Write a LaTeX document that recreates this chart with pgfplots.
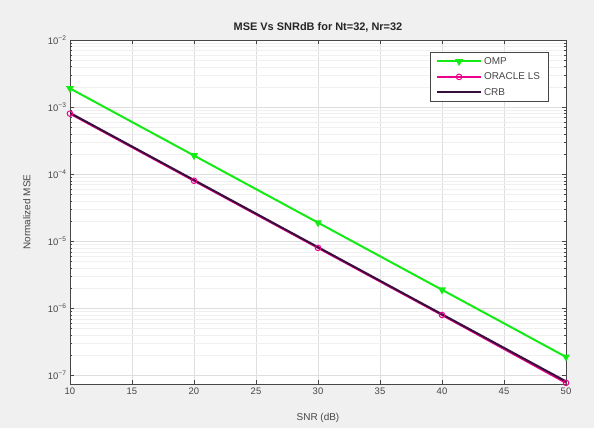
\documentclass[border=0pt]{standalone}
\usepackage{pgfplots}
\pgfplotsset{compat=1.18}
\usepackage{fontspec}
\setmainfont{Liberation Sans}
\definecolor{figbg}{RGB}{240,240,240}
\definecolor{axgray}{RGB}{70,70,70}
\definecolor{gridgray}{RGB}{222,222,222}
\definecolor{ompgreen}{RGB}{20,235,20}
\definecolor{crbcol}{RGB}{55,15,60}

\begin{document}
\begin{tikzpicture}
\fill[figbg] (0,0) rectangle (594bp,428bp);
\begin{axis}[
  at={(70bp,44bp)}, anchor=south west,
  width=496bp, height=344bp, scale only axis,
  ymode=log,
  xmin=10, xmax=50, ymin=7.5e-8, ymax=1e-2,
  xtick={10,15,...,50},
  ytick={1e-7,1e-6,1e-5,1e-4,1e-3,1e-2},
  yticklabels={10\textsuperscript{−7},10\textsuperscript{−6},10\textsuperscript{−5},10\textsuperscript{−4},10\textsuperscript{−3},10\textsuperscript{−2}},
  /pgf/number format/assume math mode=true,
  tick label style={font=\fontsize{9.5}{11}\selectfont, text=axgray},
  axis background/.style={fill=white},
  axis line style={axgray, line width=0.5pt},
  tick style={axgray, line width=0.5pt},
  major tick length=4bp, minor tick length=2bp,
  xtick pos=both, ytick pos=both, tick align=inside,
  grid=both,
  major grid style={gridgray, line width=0.5pt},
  minor grid style={gridgray!45, line width=0.4pt},
  title={\textbf{MSE Vs SNRdB for Nt=32, Nr=32}},
  title style={at={(axis description cs:0.5,1.018)}, anchor=center, font=\fontsize{11}{13}\selectfont, text=black!85},
  xlabel={SNR (dB)},
  xlabel style={at={(axis description cs:0.5,-0.099)}, anchor=center, font=\fontsize{10}{12}\selectfont, text=axgray},
  ylabel={Normalized MSE},
  ylabel style={at={(axis description cs:-0.087,0.5)}, anchor=center, font=\fontsize{10}{12}\selectfont, text=axgray},
  legend style={at={(axis description cs:0.964,0.965)}, anchor=north east,
    font=\fontsize{10}{12}\selectfont, text=axgray, draw=axgray,
    row sep=3bp, inner xsep=6bp, inner ysep=3bp},
  legend cell align=left,
  legend image code/.code={
    \draw (0cm,0cm) -- (1.55cm,0cm);
    \draw[only marks] plot coordinates {(0.775cm,0cm)};},
]
\addplot[color=ompgreen, line width=2pt, mark=triangle*, mark options={rotate=180, scale=1.3, fill=ompgreen}]
  coordinates {(10,1.9e-3) (20,1.9e-4) (30,1.9e-5) (40,1.9e-6) (50,1.9e-7)};
\addlegendentry{OMP}
\addplot[color=magenta, line width=2pt, mark=o, mark options={scale=1.4, line width=1pt, fill=magenta!40}]
  coordinates {(10,8.0e-4) (20,8.0e-5) (30,8.0e-6) (40,8.0e-7) (50,7.8e-8)};
\addlegendentry{ORACLE LS}
\addplot[color=crbcol, line width=2pt]
  coordinates {(10,8.2e-4) (20,8.2e-5) (30,8.2e-6) (40,8.2e-7) (50,8.2e-8)};
\addlegendentry{CRB}
\end{axis}
\pgfresetboundingbox
\path (0,0) rectangle (594bp,428bp);
\end{tikzpicture}
\end{document}
